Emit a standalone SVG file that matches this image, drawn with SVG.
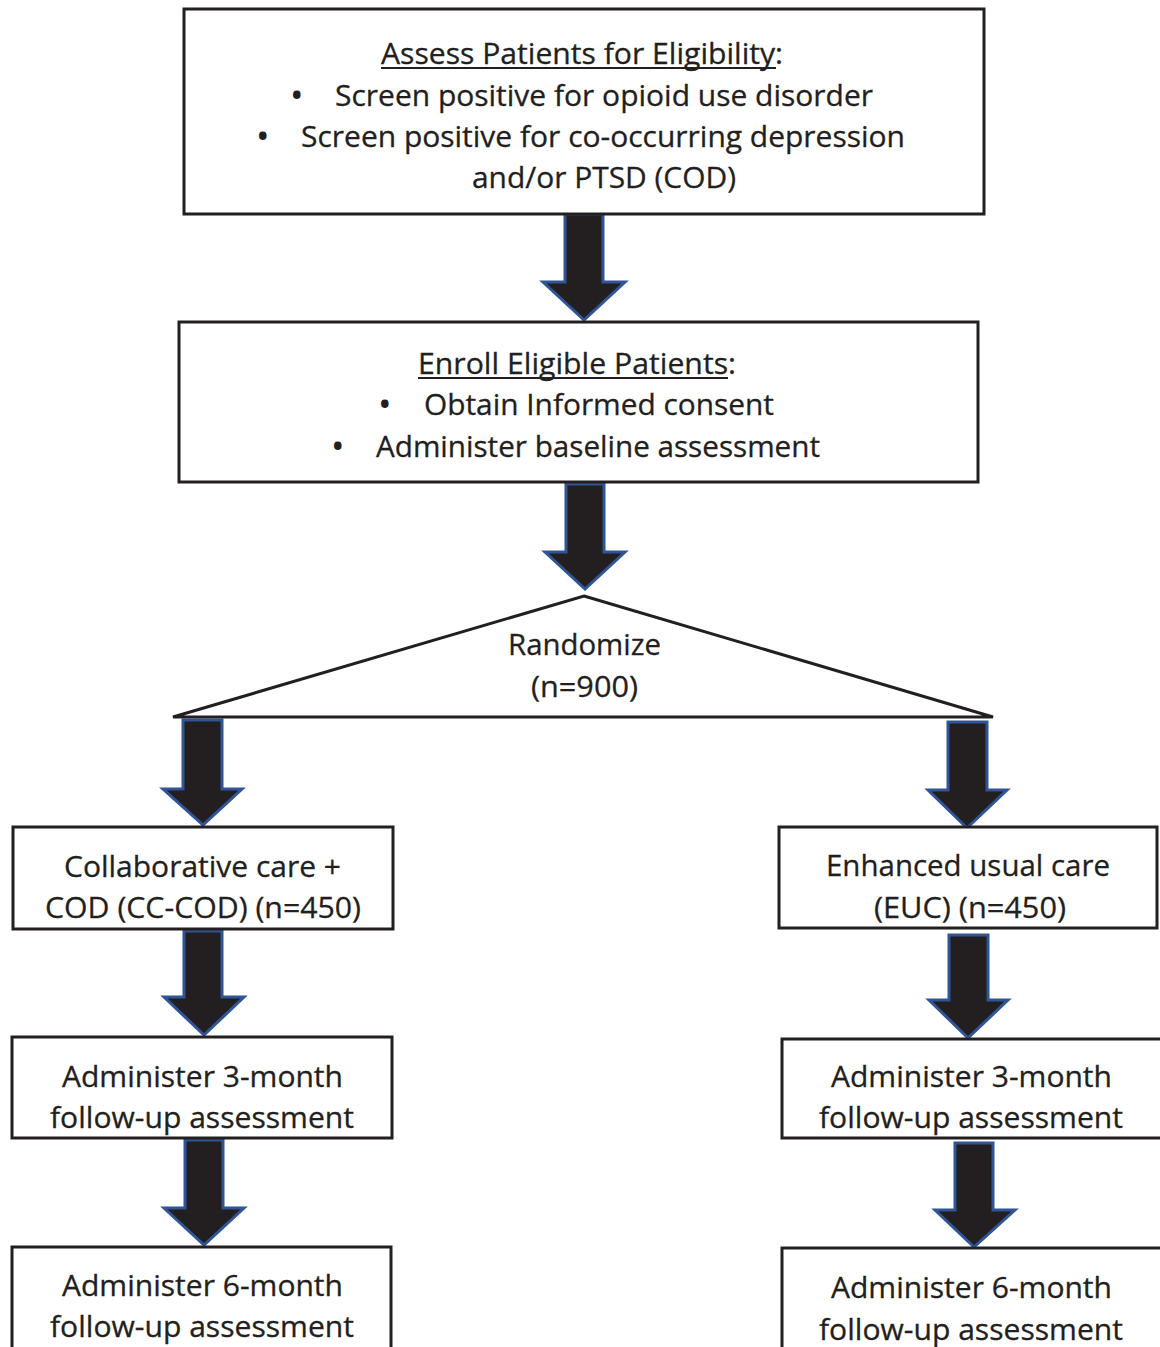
<svg xmlns="http://www.w3.org/2000/svg" width="1160" height="1347" viewBox="0 0 1160 1347">
<style>
.box{fill:#fff;stroke:#231f20;stroke-width:3}
.arr{fill:#231f20;stroke:#2f5597;stroke-width:3;stroke-linejoin:miter}
.t{font-family:"Open Sans","Noto Sans",sans-serif;font-size:29px;fill:#231f20;stroke:#231f20;stroke-width:0.3}
.b{font-family:"Open Sans","Noto Sans",sans-serif;font-size:36px;fill:#231f20}
.ul{stroke:#231f20;stroke-width:2}
</style>
<rect width="1160" height="1347" fill="#fff"/>
<g id="connectors">
<polygon class="arr" points="565,214 603,214 603,282 625,282 584,320 543,282 565,282"/>
<polygon class="arr" points="566,484 604,484 604,552 625,552 585,589 545,552 566,552"/>
<polygon class="arr" points="183,720 222,720 222,789 242,789 203,825 163,789 183,789"/>
<polygon class="arr" points="948,722 987,722 987,790 1007,790 967,828 928,790 948,790"/>
<polygon class="arr" points="184,931 222,931 222,997 244,997 204,1035 164,997 184,997"/>
<polygon class="arr" points="949,935 988,935 988,1000 1008,1000 968,1038 929,1000 949,1000"/>
<polygon class="arr" points="185,1140 223,1140 223,1208 244,1208 204,1245 164,1208 185,1208"/>
<polygon class="arr" points="955,1143 993,1143 993,1210 1015,1210 974,1247 935,1210 955,1210"/>
</g>
<g id="assess">
<rect class="box" x="184" y="9" width="800" height="205"/>
<text class="t" x="381" y="64" textLength="402" lengthAdjust="spacingAndGlyphs">Assess Patients for Eligibility:</text>
<line class="ul" x1="381" y1="68" x2="776" y2="68"/>
<text class="b" x="290" y="108">•</text>
<text class="t" x="335" y="106" textLength="538" lengthAdjust="spacingAndGlyphs">Screen positive for opioid use disorder</text>
<text class="b" x="256" y="149">•</text>
<text class="t" x="301" y="147" textLength="604" lengthAdjust="spacingAndGlyphs">Screen positive for co-occurring depression</text>
<text class="t" x="472" y="188" textLength="264" lengthAdjust="spacingAndGlyphs">and/or PTSD (COD)</text>
</g>
<g id="enroll">
<rect class="box" x="179" y="322" width="799" height="160"/>
<text class="t" x="418" y="374" textLength="318" lengthAdjust="spacingAndGlyphs">Enroll Eligible Patients:</text>
<line class="ul" x1="418" y1="378" x2="728" y2="378"/>
<text class="b" x="378" y="417">•</text>
<text class="t" x="424" y="415" textLength="350" lengthAdjust="spacingAndGlyphs">Obtain Informed consent</text>
<text class="b" x="331" y="459">•</text>
<text class="t" x="376" y="457" textLength="444" lengthAdjust="spacingAndGlyphs">Administer baseline assessment</text>
</g>
<g id="randomize">
<polygon points="584,596 993,717 173,717" fill="#fff" stroke="#231f20" stroke-width="3"/>
<text class="t" x="508" y="655" textLength="153" lengthAdjust="spacingAndGlyphs">Randomize</text>
<text class="t" x="531" y="697" textLength="107" lengthAdjust="spacingAndGlyphs">(n=900)</text>
</g>
<g id="cccod">
<rect class="box" x="13" y="827" width="380" height="102"/>
<text class="t" x="64" y="877" textLength="277" lengthAdjust="spacingAndGlyphs">Collaborative care +</text>
<text class="t" x="45" y="918" textLength="316" lengthAdjust="spacingAndGlyphs">COD (CC-COD) (n=450)</text>
</g>
<g id="euc">
<rect class="box" x="779" y="827" width="378" height="101"/>
<text class="t" x="826" y="876" textLength="284" lengthAdjust="spacingAndGlyphs">Enhanced usual care</text>
<text class="t" x="874" y="918" textLength="192" lengthAdjust="spacingAndGlyphs">(EUC) (n=450)</text>
</g>
<g id="left3">
<rect class="box" x="12" y="1037" width="380" height="101"/>
<text class="t" x="62" y="1087" textLength="281" lengthAdjust="spacingAndGlyphs">Administer 3-month</text>
<text class="t" x="50" y="1128" textLength="304" lengthAdjust="spacingAndGlyphs">follow-up assessment</text>
</g>
<g id="right3">
<rect class="box" x="782" y="1039" width="380" height="99"/>
<text class="t" x="831" y="1087" textLength="281" lengthAdjust="spacingAndGlyphs">Administer 3-month</text>
<text class="t" x="819" y="1128" textLength="304" lengthAdjust="spacingAndGlyphs">follow-up assessment</text>
</g>
<g id="left6">
<rect class="box" x="12" y="1247" width="379" height="110"/>
<text class="t" x="62" y="1296" textLength="281" lengthAdjust="spacingAndGlyphs">Administer 6-month</text>
<text class="t" x="50" y="1337" textLength="304" lengthAdjust="spacingAndGlyphs">follow-up assessment</text>
</g>
<g id="right6">
<rect class="box" x="782" y="1248" width="380" height="110"/>
<text class="t" x="831" y="1298" textLength="281" lengthAdjust="spacingAndGlyphs">Administer 6-month</text>
<text class="t" x="819" y="1340" textLength="304" lengthAdjust="spacingAndGlyphs">follow-up assessment</text>
</g>
</svg>
